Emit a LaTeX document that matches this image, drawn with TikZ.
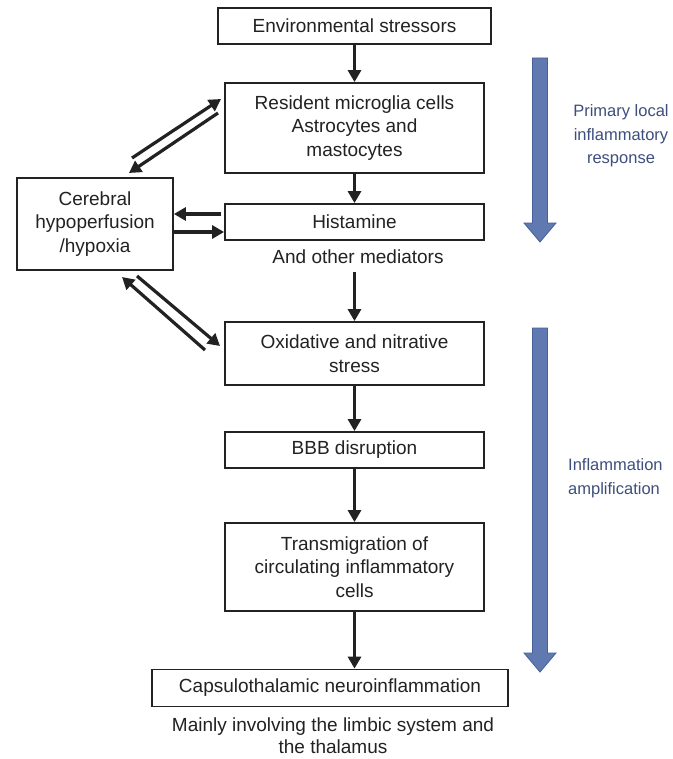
\documentclass[tikz,border=0pt]{standalone}
\usepackage{fontspec}
\setmainfont{Liberation Sans}
\usetikzlibrary{arrows.meta}
\definecolor{ink}{HTML}{222222}
\definecolor{bfill}{HTML}{6079B1}
\definecolor{bdraw}{HTML}{47609A}
\definecolor{btext}{HTML}{3E4F7E}
\tikzset{
  flowbox/.style={draw=ink, line width=1.8pt, text=ink, align=center, inner sep=0pt,
    font=\fontsize{19}{23.5}\selectfont},
  plaintext/.style={text=ink, align=center, inner sep=0pt, font=\fontsize{19}{23.5}\selectfont},
  flowarrow/.style={draw=ink, line width=3.2pt, -{Triangle[length=12pt,width=13pt]}},
  sidelabel/.style={text=btext, inner sep=0pt, font=\fontsize{16.5}{23.5}\selectfont},
  bluearrow/.style={fill=bfill, draw=bdraw, line width=0.8pt, line join=miter}
}
\begin{document}
\begin{tikzpicture}[x=1pt,y=-1pt]
\useasboundingbox (0,0) rectangle (672,759);
\fill[white] (0,0) rectangle (672,759);

% main column
\node[flowbox, minimum width=273pt, minimum height=36pt] (env) at (354.5,26) {Environmental stressors};
\node[flowbox, minimum width=259pt, minimum height=90pt] (res) at (354.5,128) {Resident microglia cells\\Astrocytes and\\mastocytes};
\node[flowbox, minimum width=259pt, minimum height=36pt] (hist) at (354.5,222) {Histamine};
\node[plaintext] (med) at (358,257) {And other mediators};
\node[flowbox, minimum width=259pt, minimum height=63pt] (ox) at (354.5,353.5) {Oxidative and nitrative\\stress};
\node[flowbox, minimum width=259pt, minimum height=36pt] (bbb) at (354.5,450) {BBB disruption};
\node[flowbox, minimum width=259pt, minimum height=88pt] (trans) at (354.5,567) {Transmigration of\\circulating inflammatory\\cells};
\node[flowbox, minimum width=356pt, minimum height=37pt] (caps) at (330,688) {Capsulothalamic neuroinflammation};
\node[plaintext, font=\fontsize{19}{22.5}\selectfont] (mainly) at (333,735.5) {Mainly involving the limbic system and\\the thalamus};

% side box
\node[flowbox, minimum width=156pt, minimum height=92pt] (cer) at (95,224) {Cerebral\\hypoperfusion\\/hypoxia};

% vertical arrows
\coordinate (medlow) at (354.5,272);
\draw[flowarrow] (env.south) -- (res.north);
\draw[flowarrow] (res.south) -- (hist.north);
\draw[flowarrow] (medlow) -- (ox.north);
\draw[flowarrow] (ox.south) -- (bbb.north);
\draw[flowarrow] (bbb.south) -- (trans.north);
\draw[flowarrow] (trans.south) -- (trans.south |- caps.north);

% double arrows between cerebral box and main column
\coordinate (a1) at (132,158);
\coordinate (a2) at (221,99);
\coordinate (b1) at (218,113);
\coordinate (b2) at (129,173);
\draw[flowarrow] (a1) -- (a2);
\draw[flowarrow] (b1) -- (b2);

\coordinate (h1) at (221,214);
\coordinate (h2) at (174,232);
\draw[flowarrow] (h1) -- (h1 -| cer.east);
\draw[flowarrow] (h2) -- (h2 -| hist.west);

\coordinate (c1) at (205,350);
\coordinate (c2) at (122,277);
\coordinate (d1) at (137,276);
\coordinate (d2) at (220,346);
\draw[flowarrow] (c1) -- (c2);
\draw[flowarrow] (d1) -- (d2);

% blue phase arrows
\draw[bluearrow] (532.5,58) -- (547.5,58) -- (547.5,223) -- (556,223) -- (540,242) -- (524,223) -- (532.5,223) -- cycle;
\draw[bluearrow] (532.5,328) -- (547.5,328) -- (547.5,653) -- (556,653) -- (540,672) -- (524,653) -- (532.5,653) -- cycle;

\node[sidelabel, align=center] (prim) at (621,136) {Primary local\\inflammatory\\response};
\node[sidelabel, align=left, anchor=west] (ampl) at (568,478) {Inflammation\\amplification};
\end{tikzpicture}
\end{document}
